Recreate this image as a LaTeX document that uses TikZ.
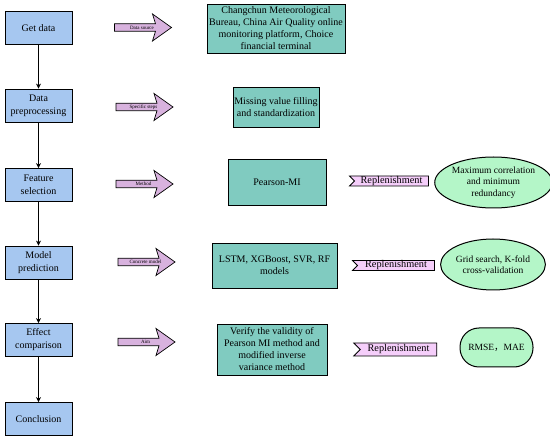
\documentclass[tikz,border=0pt]{standalone}
\usepackage{fontspec}
\setmainfont{Liberation Serif}
\newfontfamily\cjk{Noto Sans CJK SC}
\usetikzlibrary{shapes.symbols,shapes.geometric,arrows.meta}
\definecolor{lblue}{RGB}{166,199,240}
\definecolor{teal2}{RGB}{128,203,192}
\definecolor{lilac}{RGB}{216,178,222}
\definecolor{tagpink}{RGB}{245,206,250}
\definecolor{mint}{RGB}{180,246,200}
\tikzset{
  leftbox/.style={draw, line width=0.8pt, fill=lblue, minimum width=67pt, minimum height=33pt, align=center, inner sep=1pt, font=\fontsize{10}{13}\selectfont},
  tealbox/.style={draw, line width=0.9pt, fill=teal2, align=center, inner sep=0pt, font=\fontsize{10}{12}\selectfont},
  arrowbody/.style={draw, line width=0.7pt, fill=lilac, line join=miter},
  arrowtext/.style={inner sep=0pt, font=\fontsize{5}{6}\selectfont},
  tag/.style={signal, signal from=west, signal to=nowhere, draw, line width=0.8pt, fill=tagpink, inner sep=0pt, minimum height=10pt, font=\fontsize{10.3}{10}\selectfont},
  goal/.style={ellipse, draw, line width=1pt, fill=mint, align=center, inner sep=0pt, font=\fontsize{9.5}{11.5}\selectfont},
  flow/.style={-{Stealth[length=5pt,width=5pt]}, line width=0.8pt}
}
\newcommand{\blockarr}[4]{%
  \begin{scope}[shift={(#2,#3)}]
    \draw[arrowbody] (-28.5,-3.75) -- (12.5,-3.75) -- (9.5,-13.5) -- (28.5,0) -- (9.5,13.5) -- (12.5,3.75) -- (-28.5,3.75) -- cycle;
    \node[arrowtext] (#1) at (-1,0) {#4};
  \end{scope}}
\begin{document}
\begin{tikzpicture}[x=1pt,y=-1pt]
\useasboundingbox (0,0) rectangle (550,441);
% left column
\node[leftbox] (g1) at (38.5,28) {Get data};
\node[leftbox] (g2) at (38.5,105.5) {Data\\preprocessing};
\node[leftbox] (g3) at (38.5,185) {Feature\\selection};
\node[leftbox] (g4) at (38.5,262.5) {Model\\prediction};
\node[leftbox] (g5) at (38.5,340) {Effect\\comparison};
\node[leftbox] (g6) at (38.5,419) {Conclusion};
\draw[flow] (g1) -- (g2);
\draw[flow] (g2) -- (g3);
\draw[flow] (g3) -- (g4);
\draw[flow] (g4) -- (g5);
\draw[flow] (g5) -- (g6);
% block arrows
\blockarr{a1}{143}{27.5}{Data source}
\blockarr{a2}{144.5}{107}{Specific steps}
\blockarr{a3}{144.5}{184}{Method}
\blockarr{a4}{146.5}{262}{Concrete model}
\blockarr{a5}{146.5}{342}{Aim}
% teal boxes
\node[tealbox, minimum width=138pt, minimum height=49pt] (t1) at (276,28.5) {Changchun Meteorological\\Bureau, China Air Quality online\\monitoring platform, Choice\\financial terminal};
\node[tealbox, minimum width=86pt, minimum height=40pt] (t2) at (276,107) {Missing value filling\\and standardization};
\node[tealbox, minimum width=98pt, minimum height=46pt] (t3) at (277,182) {Pearson-MI};
\node[tealbox, minimum width=125pt, minimum height=45pt] (t4) at (274.5,265.5) {LSTM, XGBoost, SVR, RF\\models};
\node[tealbox, minimum width=110pt, minimum height=51pt] (t5) at (272,349.5) {Verify the validity of\\Pearson MI method and\\modified inverse\\variance method};
% tags
\node[tag, minimum width=79pt] (r1) at (391.5,181) {Replenishment};
\node[tag, minimum width=82pt] (r2) at (396,265.5) {Replenishment};
\node[tag, minimum width=83pt, minimum height=13pt] (r3) at (398.5,349.5) {Replenishment};
% goals
\node[goal, minimum width=95pt, minimum height=51pt] (e1) at (493.5,182.5) {Maximum correlation\\and minimum\\redundancy};
\node[goal, minimum width=94pt, minimum height=51pt] (e2) at (493,264.5) {Grid search, K-fold\\cross-validation};
\node[draw, line width=1pt, fill=mint, rounded corners=19pt, minimum width=73pt, minimum height=39pt, inner sep=0pt, font=\fontsize{9.5}{11.5}\selectfont] (e3) at (496.5,347.5) {RMSE{\cjk ，}MAE};
\end{tikzpicture}
\end{document}
